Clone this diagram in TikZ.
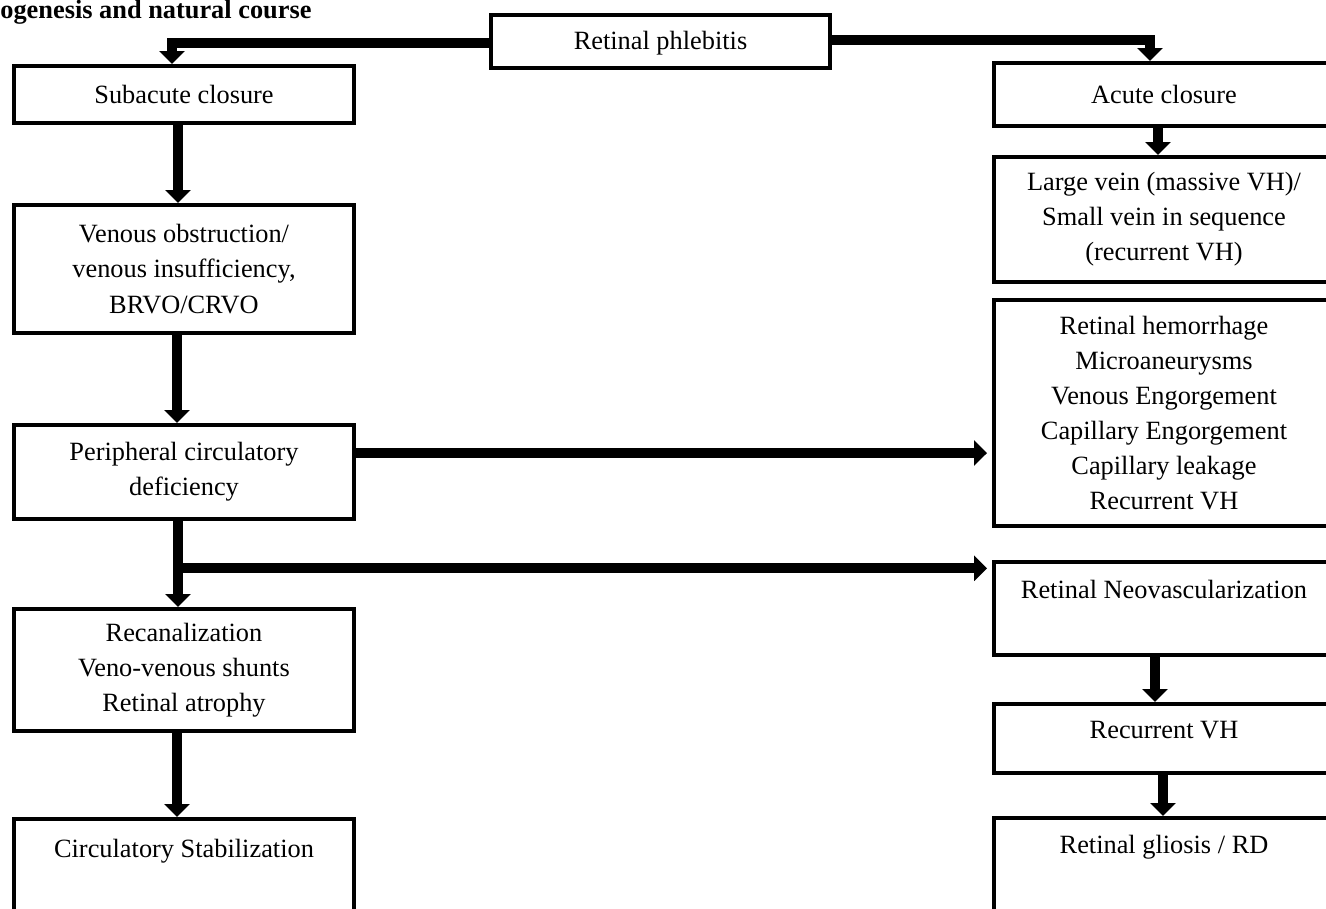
\documentclass[tikz,border=0pt]{standalone}
\usepackage{fontspec}
\setmainfont{Liberation Serif}
\usetikzlibrary{arrows.meta,calc,positioning}

\begin{document}
\begin{tikzpicture}[x=0.02cm,y=-0.02cm]
\tikzstyle{flowbox}=[draw,line width=0.08cm,minimum width=6.8cm,align=center,font=\fontsize{15}{20}\selectfont]
\tikzstyle{topbox}=[flowbox,inner ysep=0pt,anchor=north]
\tikzstyle{flowarrow}=[line width=0.2cm,-{Triangle[width=0.5cm,length=0.26cm]}]
\useasboundingbox (0,0) rectangle (1326,909);
\clip (0,0) rectangle (1326,909);
\node[font=\fontsize{15}{19.8}\selectfont\bfseries,anchor=base west,inner sep=0pt] (title) at (0,19) {ogenesis and natural course};
\node[topbox,minimum width=6.78cm,text height=0.7cm,text depth=0.36cm] (phl) at (660.5,13) {Retinal phlebitis};
\node[flowbox,minimum height=1.14cm] (sub) at (184,94.5) {Subacute closure};
\node[flowbox,minimum height=2.56cm] (ven) at (184,269) {Venous obstruction/\\venous insufficiency,\\BRVO/CRVO};
\node[flowbox,minimum height=1.88cm] (per) at (184,472) {Peripheral circulatory\\deficiency};
\node[flowbox,minimum height=2.44cm] (rec) at (184,670) {Recanalization\\Veno-venous shunts\\Retinal atrophy};
\node[topbox,text height=0.78cm,text depth=1.6cm] (circ) at (184,817) {Circulatory Stabilization};
\node[flowbox,minimum height=1.26cm] (acu) at (1164,94.5) {Acute closure};
\node[flowbox,minimum height=2.5cm] (vein) at (1164,219.5) {Large vein (massive VH)/\\Small vein in sequence\\(recurrent VH)};
\node[flowbox,minimum height=4.52cm] (sign) at (1164,413) {Retinal hemorrhage\\Microaneurysms\\Venous Engorgement\\Capillary Engorgement\\Capillary leakage\\Recurrent VH};
\node[topbox,text height=0.74cm,text depth=1.12cm] (neo) at (1164,560) {Retinal Neovascularization};
\node[topbox,text height=0.7cm,text depth=0.68cm] (rvh) at (1164,702) {Recurrent VH};
\node[topbox,text height=0.72cm,text depth=1.6cm] (gli) at (1164,816) {Retinal gliosis / RD};
\coordinate (p1) at ([yshift=0.38cm]per.east);
\coordinate (br) at ($(per.south)!0.55!(rec.north)+(-6,0)$);
\draw[flowarrow] ([yshift=-0.04cm]phl.west) -| ([xshift=-0.24cm]sub.north);
\draw[flowarrow] ([yshift=0.02cm]phl.east) -| ([xshift=-0.28cm]acu.north);
\draw[flowarrow] ([xshift=-0.12cm]acu.south) -- ([xshift=-0.12cm]vein.north);
\draw[flowarrow] ([xshift=-0.12cm]sub.south) -- ([xshift=-0.12cm]ven.north);
\draw[flowarrow] ([xshift=-0.14cm]ven.south) -- ([xshift=-0.14cm]per.north);
\draw[flowarrow,shorten >=0.1cm] (p1) -- (p1 -| sign.west);
\draw[flowarrow] ([xshift=-0.12cm]per.south) -- ([xshift=-0.12cm]rec.north);
\draw[flowarrow,shorten >=0.1cm] (br) -- (br -| neo.west);
\draw[flowarrow] ([xshift=-0.14cm]rec.south) -- ([xshift=-0.14cm]circ.north);
\draw[flowarrow] ([xshift=-0.18cm]neo.south) -- ([xshift=-0.18cm]rvh.north);
\draw[flowarrow] ([xshift=-0.02cm]rvh.south) -- ([xshift=-0.02cm]gli.north);
\end{tikzpicture}
\end{document}
